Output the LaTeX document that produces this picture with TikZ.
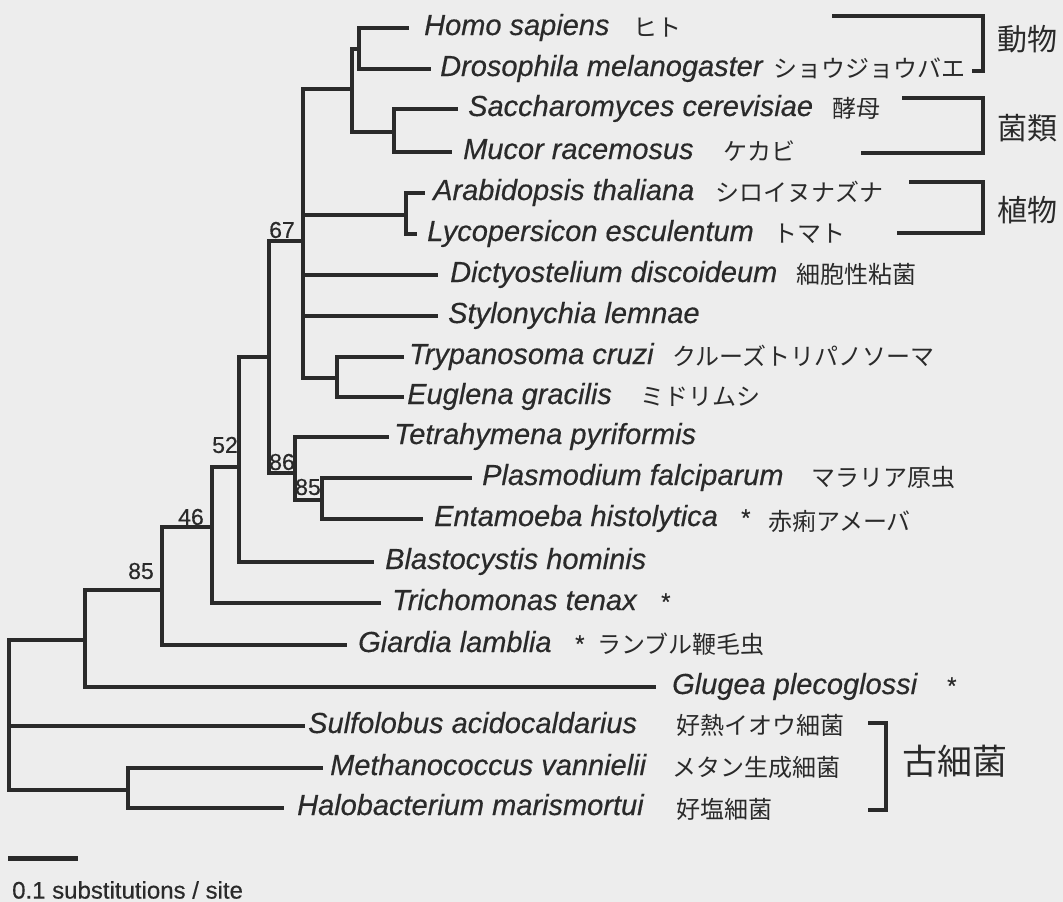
\documentclass[tikz,border=0pt]{standalone}
\usepackage{fontspec}
\setmainfont{Liberation Sans}
\newfontfamily\spfont[FakeBold=0.4]{Liberation Sans}
\newfontfamily\cjk{Noto Sans CJK JP}
\definecolor{bg}{HTML}{EDEDED}
\definecolor{ink}{HTML}{2A2A2A}
\tikzset{
  br/.style={draw=ink, line width=3.1pt, line cap=rect, line join=miter},
  brk/.style={draw=ink, line width=3.1pt, line cap=rect, line join=miter},
  sp/.style={anchor=base west, inner sep=0pt, text=ink, font=\fontsize{29}{29}\selectfont\spfont\itshape},
  jp/.style={anchor=base west, inner sep=0pt, text=ink, font=\fontsize{24}{24}\selectfont\cjk},
  bs/.style={anchor=center, inner sep=0pt, text=ink, font=\fontsize{23}{23}\selectfont\spfont},
  ast/.style={anchor=base west, inner sep=0pt, text=ink, font=\fontsize{24}{24}\selectfont\spfont},
  grp/.style={anchor=west, inner sep=0pt, text=ink, font=\fontsize{30}{30}\selectfont\cjk},
}
\begin{document}
\begin{tikzpicture}[x=1pt,y=-1pt]
\fill[bg] (0,0) rectangle (1063,902);
\useasboundingbox (0,0) rectangle (1063,902);

% internal nodes
\coordinate (AD) at (359,49);
\coordinate (AF) at (352,89);
\coordinate (F) at (394,132);
\coordinate (AP) at (406,215);
\coordinate (TE) at (337,378);
\coordinate (C) at (303,241);
\coordinate (N67) at (269,357);
\coordinate (T86) at (295,473);
\coordinate (P85) at (322,500);
\coordinate (N52) at (239,467);
\coordinate (N46) at (212,527);
\coordinate (N85) at (162,590);
\coordinate (E) at (85,640);
\coordinate (R) at (9,726);
\coordinate (MH) at (128,790);

% tips
\coordinate (tHomo) at (407,28);
\coordinate (tDros) at (429,69);
\coordinate (tSacc) at (456,109);
\coordinate (tMuc) at (450,152);
\coordinate (tArab) at (423,193);
\coordinate (tLyc) at (415,234);
\coordinate (tDict) at (436,275);
\coordinate (tSty) at (436,316);
\coordinate (tTry) at (402,357);
\coordinate (tEug) at (402,397);
\coordinate (tTet) at (387,437);
\coordinate (tPla) at (470,478);
\coordinate (tEnt) at (421,519);
\coordinate (tBla) at (372,562);
\coordinate (tTri) at (379,603);
\coordinate (tGia) at (345,645);
\coordinate (tGlu) at (654,687);
\coordinate (tSul) at (303,726);
\coordinate (tMet) at (321,768);
\coordinate (tHal) at (282,808);

% branches
\draw[br] (AD) |- (tHomo);
\draw[br] (AD) |- (tDros);
\draw[br] (AF) |- (AD);
\draw[br] (AF) |- (F);
\draw[br] (F) |- (tSacc);
\draw[br] (F) |- (tMuc);
\draw[br] (AP) |- (tArab);
\draw[br] (AP) |- (tLyc);
\draw[br] (TE) |- (tTry);
\draw[br] (TE) |- (tEug);
\draw[br] (C) |- (AF);
\draw[br] (C) |- (AP);
\draw[br] (C) |- (tDict);
\draw[br] (C) |- (tSty);
\draw[br] (C) |- (TE);
\draw[br] (P85) |- (tPla);
\draw[br] (P85) |- (tEnt);
\draw[br] (T86) |- (tTet);
\draw[br] (T86) |- (P85);
\draw[br] (N67) |- (C);
\draw[br] (N67) |- (T86);
\draw[br] (N52) |- (N67);
\draw[br] (N52) |- (tBla);
\draw[br] (N46) |- (N52);
\draw[br] (N46) |- (tTri);
\draw[br] (N85) |- (N46);
\draw[br] (N85) |- (tGia);
\draw[br] (E) |- (N85);
\draw[br] (E) |- (tGlu);
\draw[br] (R) |- (E);
\draw[br] (R) |- (tSul);
\draw[br] (R) |- (MH);
\draw[br] (MH) |- (tMet);
\draw[br] (MH) |- (tHal);

% bootstrap values
\node[bs] (b67) at (282,230) {67};
\node[bs] (b86) at (282,462) {86};
\node[bs] (b85a) at (308,487) {85};
\node[bs] (b52) at (225,445) {52};
\node[bs] (b46) at (191,517) {46};
\node[bs] (b85b) at (141,571) {85};

% species names
\node[sp] (lHomo) at (424,35) {Homo sapiens};
\node[sp] (lDros) at (440,76) {Drosophila melanogaster};
\node[sp] (lSacc) at (468,116) {Saccharomyces cerevisiae};
\node[sp] (lMuc) at (463,159) {Mucor racemosus};
\node[sp] (lArab) at (433,200) {Arabidopsis thaliana};
\node[sp] (lLyc) at (427,241) {Lycopersicon esculentum};
\node[sp] (lDict) at (450,282) {Dictyostelium discoideum};
\node[sp] (lSty) at (448,323) {Stylonychia lemnae};
\node[sp] (lTry) at (409,364) {Trypanosoma cruzi};
\node[sp] (lEug) at (407,404) {Euglena gracilis};
\node[sp] (lTet) at (394,444) {Tetrahymena pyriformis};
\node[sp] (lPla) at (482,485) {Plasmodium falciparum};
\node[sp] (lEnt) at (434,526) {Entamoeba histolytica};
\node[sp] (lBla) at (385,569) {Blastocystis hominis};
\node[sp] (lTri) at (392,610) {Trichomonas tenax};
\node[sp] (lGia) at (358,652) {Giardia lamblia};
\node[sp] (lGlu) at (672,694) {Glugea plecoglossi};
\node[sp] (lSul) at (308,733) {Sulfolobus acidocaldarius};
\node[sp] (lMet) at (330,775) {Methanococcus vannielii};
\node[sp] (lHal) at (297,815) {Halobacterium marismortui};

% asterisks
\node[ast] (aEnt) at (741,526) {*};
\node[ast] (aTri) at (661,610) {*};
\node[ast] (aGia) at (575,652) {*};
\node[ast] (aGlu) at (947,694) {*};

% Japanese names
\node[jp] (jHomo) at (633,36) {ヒト};
\node[jp] (jDros) at (773,77) {ショウジョウバエ};
\node[jp] (jSacc) at (832,117) {酵母};
\node[jp] (jMuc) at (723,160) {ケカビ};
\node[jp] (jArab) at (715,201) {シロイヌナズナ};
\node[jp] (jLyc) at (773,242) {トマト};
\node[jp] (jDict) at (796,283) {細胞性粘菌};
\node[jp] (jTry) at (672,365) {クルーズトリパノソーマ};
\node[jp] (jEug) at (640,405) {ミドリムシ};
\node[jp] (jPla) at (811,486) {マラリア原虫};
\node[jp] (jEnt) at (768,530) {赤痢アメーバ};
\node[jp] (jGia) at (597,653) {ランブル鞭毛虫};
\node[jp] (jSul) at (676,734) {好熱イオウ細菌};
\node[jp] (jMet) at (672,776) {メタン生成細菌};
\node[jp] (jHal) at (676,818) {好塩細菌};

% group brackets
\coordinate (g1a) at (834,16);
\coordinate (g1b) at (983,71);
\coordinate (g1c) at (974,71);
\draw[brk] (g1a) -| (g1b) -- (g1c);
\node[grp] (g1) at (997,39) {動物};

\coordinate (g2a) at (904,98);
\coordinate (g2b) at (983,153);
\coordinate (g2c) at (863,153);
\draw[brk] (g2a) -| (g2b) -- (g2c);
\node[grp] (g2) at (997,128) {菌類};

\coordinate (g3a) at (911,182);
\coordinate (g3b) at (983,233);
\coordinate (g3c) at (899,233);
\draw[brk] (g3a) -| (g3b) -- (g3c);
\node[grp] (g3) at (997,210) {植物};

\coordinate (g4a) at (870,723);
\coordinate (g4b) at (886,810);
\coordinate (g4c) at (870,810);
\draw[brk] (g4a) -| (g4b) -- (g4c);
\node[grp, font=\fontsize{35}{35}\selectfont\cjk] (g4) at (902,761) {古細菌};

% scale bar
\coordinate (s1) at (8,858);
\coordinate (s2) at (78,858);
\draw[draw=ink, line width=5pt] (s1) -- (s2);
\node[anchor=west, inner sep=0pt, text=ink, font=\fontsize{24}{24}\selectfont\spfont] (sl) at (12,890) {0.1 substitutions / site};
\end{tikzpicture}
\end{document}
